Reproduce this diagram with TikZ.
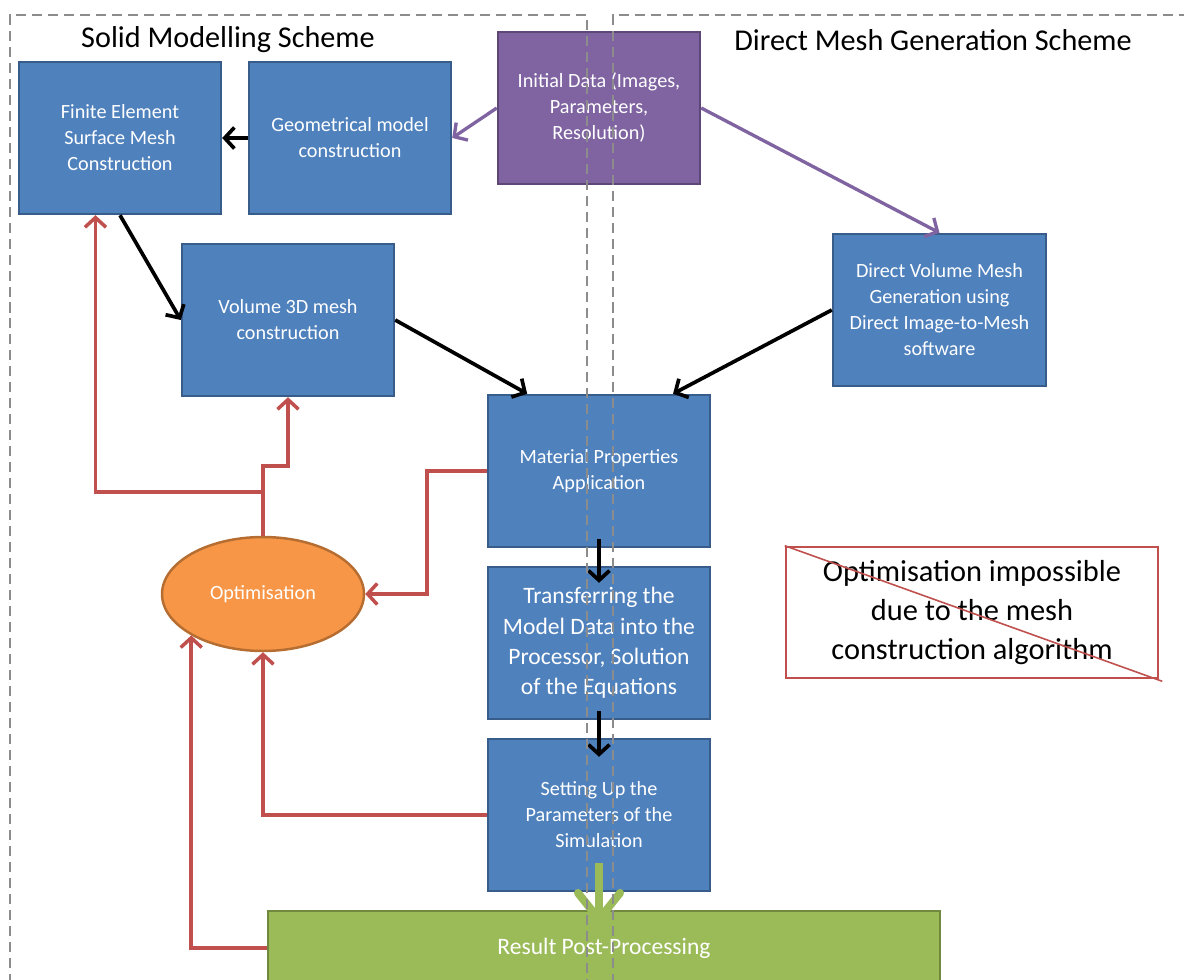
\documentclass[tikz,border=0pt]{standalone}
\usepackage{fontspec}
\setmainfont{Carlito}
\usetikzlibrary{arrows.meta,shapes.geometric,calc}
\definecolor{boxblue}{HTML}{4F81BD}
\definecolor{boxblueb}{HTML}{385D8A}
\definecolor{boxpurple}{HTML}{8064A2}
\definecolor{boxpurpleb}{HTML}{5C4776}
\definecolor{boxorange}{HTML}{F79646}
\definecolor{boxorangeb}{HTML}{B66D31}
\definecolor{boxgreen}{HTML}{9BBB59}
\definecolor{boxgreenb}{HTML}{71893F}
\definecolor{linered}{HTML}{C0504D}
\definecolor{dashgray}{HTML}{8C8C8C}
\tikzset{
  x=0.02cm, y=-0.02cm,
  blk/.style={draw=boxblueb, line width=1.4pt, fill=boxblue, text=white, align=center, inner sep=0pt,
    font=\fontsize{11.5}{14.8}\selectfont},
  blkbig/.style={blk, font=\fontsize{13.4}{17.2}\selectfont},
  purp/.style={blk, draw=boxpurpleb, fill=boxpurple},
  grn/.style={blk, draw=boxgreenb, fill=boxgreen, font=\fontsize{13.4}{17.2}\selectfont},
  ovalbox/.style={ellipse, draw=boxorangeb, line width=1.4pt, fill=boxorange, text=white, inner sep=0pt,
    minimum width=4.04cm, minimum height=2.28cm, font=\fontsize{11.5}{14.8}\selectfont},
  tip/.style={-{Straight Barb[length=5.5pt,width=12pt]}},
  blkarrow/.style={tip, draw=black, line width=2.1pt},
  purparrow/.style={tip, draw=boxpurple, line width=1.9pt},
  redarrow/.style={draw=linered, line width=2pt},
  greenarrow/.style={-{Straight Barb[length=15pt,width=24pt,round]}, draw=boxgreen, line width=4.5pt},
  dashline/.style={draw=dashgray, line width=1.2pt, dash pattern=on 5.7pt off 3.4pt},
  titletext/.style={font=\fontsize{17.2}{20}\selectfont, text=black, inner sep=0pt},
}
\begin{document}
\begin{tikzpicture}
\useasboundingbox (0,0) rectangle (1184,980);
% boxes
\node[blk, minimum width=4.04cm, minimum height=3.04cm] (fe) at (120,138) {Finite Element\\Surface Mesh\\Construction};
\node[blk, minimum width=4.04cm, minimum height=3.04cm] (geom) at (350,138) {Geometrical model\\construction};
\node[purp, minimum width=4.04cm, minimum height=3.04cm] (init) at (599,108) {Initial Data (Images,\\Parameters,\\Resolution)};
\node[blk, minimum width=4.24cm, minimum height=3.04cm] (vol) at (288,320) {Volume 3D mesh\\construction};
\node[blk, minimum width=4.26cm, minimum height=3.04cm] (dvm) at (939.5,310) {Direct Volume Mesh\\Generation using\\Direct Image-to-Mesh\\software};
\node[blk, minimum width=4.44cm, minimum height=3.04cm] (mat) at (599,471) {Material Properties\\Application};
\node[blkbig, minimum width=4.44cm, minimum height=3.04cm] (transf) at (599,643) {Transferring the\\Model Data into the\\Processor, Solution\\of the Equations};
\node[blk, minimum width=4.44cm, minimum height=3.04cm] (setp) at (599,815) {Setting Up the\\Parameters of the\\Simulation};
\node[grn, minimum width=13.44cm, minimum height=1.48cm] (res) at (604,948) {Result Post-Processing};
\node[ovalbox] (opt) at (263,594) {Optimisation};
\node[draw=linered, line width=1.5pt, fill=white, align=center, inner sep=0pt, minimum width=7.44cm, minimum height=2.62cm,
  font=\fontsize{17.3}{22.2}\selectfont] (cross) at (972,612.5) {Optimisation impossible\\due to the mesh\\construction algorithm};
\coordinate (crossend) at ($(cross.south east)+(3,2)$);
\draw[linered, line width=0.9pt] (cross.north west) -- (crossend);
% titles
\node[titletext] (tleft) at (228,40) {Solid Modelling Scheme};
\node[titletext] (tright) at (933,40) {Direct Mesh Generation Scheme};
% black arrows
\draw[blkarrow] (geom.west) -- (fe.east);
\draw[blkarrow] (fe.south) -- (vol.west);
\draw[blkarrow] (vol.east) -- ($(mat.north west)!0.18!(mat.north east)$);
\draw[blkarrow] (dvm.west) -- ($(mat.north west)!0.83!(mat.north east)$);
\draw[blkarrow] ($(mat.south)+(0,-9)$) -- ($(transf.north)+(0,17)$);
\draw[blkarrow] ($(transf.south)+(0,-9)$) -- ($(setp.north)+(0,19)$);
% purple arrows
\draw[purparrow] (init.west) -- (geom.east);
\draw[purparrow] (init.east) -- (dvm.north);
% green arrow
\draw[greenarrow] ($(setp.south)+(0,-29)$) -- ($(setp.south)+(0,31)$);
% red feedback lines
\coordinate (feA) at ($(fe.south west)!0.38!(fe.south east)$);
\draw[redarrow, tip] (opt.north) -- ++(0,-70) -| (vol.south);
\draw[redarrow, tip] (opt.north) -- ++(0,-44) -| (feA);
\draw[redarrow, tip] (mat.west) -- ++(-60,0) |- (opt.east);
\draw[redarrow, tip] (setp.west) -| (opt.south);
\draw[redarrow, tip] (res.west) -| (opt.210);
% dashed scheme frames
\draw[dashline] (10,1000) -- (10,15) -- (587,15) -- (587,1000);
\draw[dashline] (613,1000) -- (613,15) -- (1200,15);
\end{tikzpicture}
\end{document}
